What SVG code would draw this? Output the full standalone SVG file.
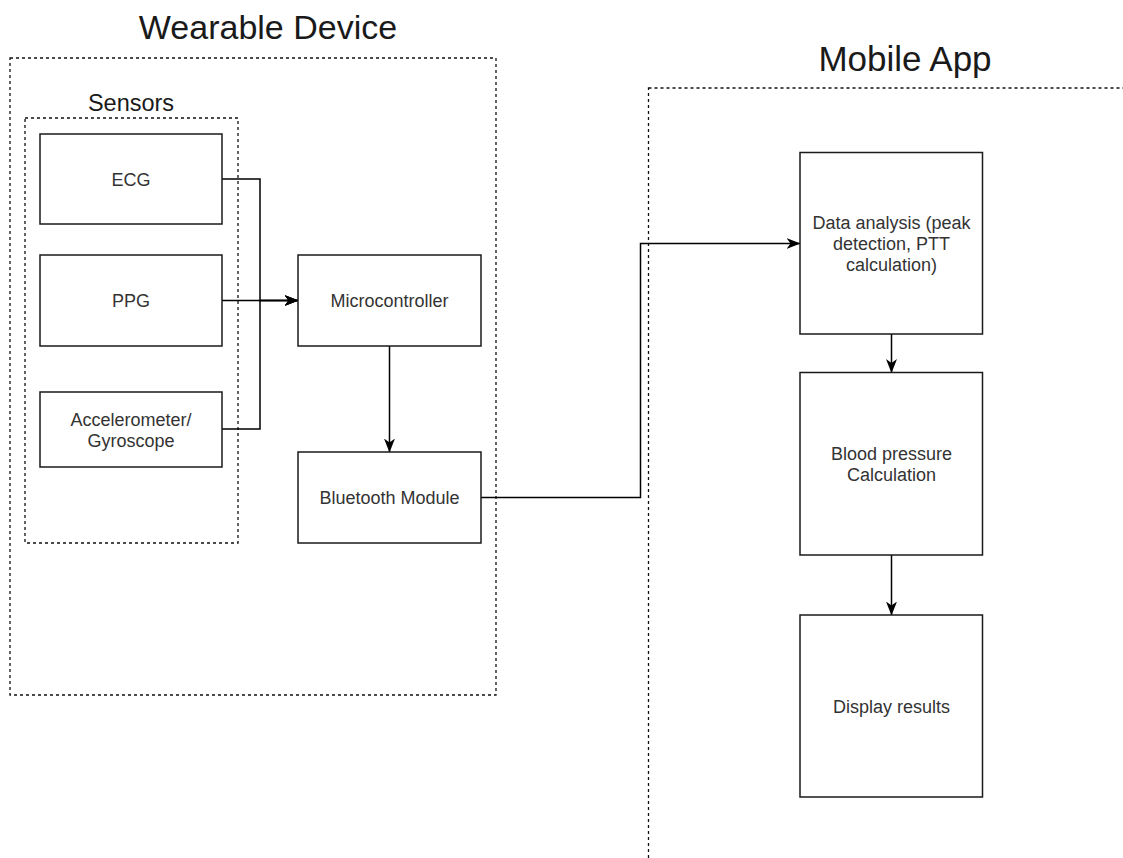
<svg xmlns="http://www.w3.org/2000/svg" width="1123" height="858" viewBox="0 0 1123 858">
  <style>
    .bg { fill: #ffffff; }
    .group { fill: none; stroke: #111; stroke-width: 1.3; stroke-dasharray: 3 3; }
    .box { fill: #ffffff; stroke: #1a1a1a; stroke-width: 1.5; }
    .title { font-family: "Liberation Sans", Arial, sans-serif; fill: #1a1a1a; text-anchor: middle; }
    .lbl { font-family: "Liberation Sans", Arial, sans-serif; font-size: 18px; fill: #333; text-anchor: middle; }
    .conn { fill: none; stroke: #000; stroke-width: 1.5; }
  </style>
  <defs>
    <marker id="arrow" viewBox="0 0 14 14" refX="13.5" refY="7" markerWidth="14" markerHeight="14" markerUnits="userSpaceOnUse" orient="auto">
      <path d="M0,1.5 L14,7 L0,12.5 L4,7 z" fill="#000"/>
    </marker>
  </defs>
  <rect class="bg" x="0" y="0" width="1123" height="858"/>

  <g id="wearable-device">
    <rect class="group" x="10" y="58" width="486" height="637"/>
    <text class="title" x="268" y="39" font-size="34">Wearable Device</text>
  </g>
  <g id="sensors">
    <rect class="group" x="25" y="118" width="213" height="425"/>
    <text class="title" x="131" y="111" font-size="23.5">Sensors</text>
  </g>
  <g id="mobile-app">
    <rect class="group" x="648.5" y="88" width="500" height="800"/>
    <text class="title" x="905" y="71" font-size="35">Mobile App</text>
  </g>

  <g id="connectors">
    <path class="conn" d="M222,179 H260 V300.5 H298" marker-end="url(#arrow)"/>
    <path class="conn" d="M222,429 H260 V300.5 H298" marker-end="url(#arrow)"/>
    <path class="conn" d="M222,300.5 H298" marker-end="url(#arrow)"/>
    <path class="conn" d="M389.5,346 V452" marker-end="url(#arrow)"/>
    <path class="conn" d="M481,497.5 H640.5 V243.5 H800" marker-end="url(#arrow)"/>
    <path class="conn" d="M891.5,334 V372.5" marker-end="url(#arrow)"/>
    <path class="conn" d="M891.5,555 V615" marker-end="url(#arrow)"/>
  </g>

  <g id="ecg">
    <rect class="box" x="40" y="134" width="182" height="90"/>
    <text class="lbl" x="131" y="185.5">ECG</text>
  </g>
  <g id="ppg">
    <rect class="box" x="40" y="255" width="182" height="91"/>
    <text class="lbl" x="131" y="307">PPG</text>
  </g>
  <g id="accelerometer">
    <rect class="box" x="40" y="392" width="182" height="75"/>
    <text class="lbl" x="131" y="425.5">Accelerometer/</text>
    <text class="lbl" x="131" y="446.5">Gyroscope</text>
  </g>
  <g id="microcontroller">
    <rect class="box" x="298" y="255" width="183" height="91"/>
    <text class="lbl" x="389.5" y="307">Microcontroller</text>
  </g>
  <g id="bluetooth">
    <rect class="box" x="298" y="452" width="183" height="91"/>
    <text class="lbl" x="389.5" y="504">Bluetooth Module</text>
  </g>
  <g id="data-analysis">
    <rect class="box" x="800" y="152.5" width="182.5" height="181.5"/>
    <text class="lbl" x="891.5" y="229">Data analysis (peak</text>
    <text class="lbl" x="891.5" y="250">detection, PTT</text>
    <text class="lbl" x="891.5" y="271">calculation)</text>
  </g>
  <g id="blood-pressure">
    <rect class="box" x="800" y="372.5" width="182.5" height="182.5"/>
    <text class="lbl" x="891.5" y="460">Blood pressure</text>
    <text class="lbl" x="891.5" y="481">Calculation</text>
  </g>
  <g id="display-results">
    <rect class="box" x="800" y="615" width="182.5" height="182"/>
    <text class="lbl" x="891.5" y="712.5">Display results</text>
  </g>
</svg>
